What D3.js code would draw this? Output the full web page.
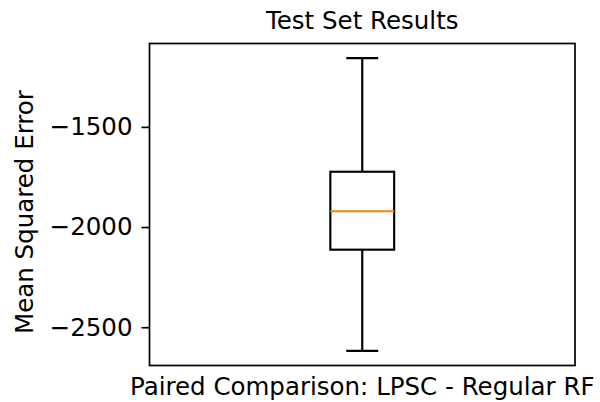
<!DOCTYPE html>
<html>
<head>
<meta charset="utf-8">
<script src="https://cdn.jsdelivr.net/npm/d3@7"></script>
<style>
  html, body { margin: 0; padding: 0; background: #fff; }
  svg text { font-family: "DejaVu Sans", sans-serif; fill: #000; }
</style>
</head>
<body>
<svg id="chart" width="600" height="402"></svg>
<script>
// Box-plot summary of the paired differences (LPSC minus regular RF)
const categories = ["LPSC - Regular RF"];
const whiskerLow = [-2618];
const quartile1 = [-2113];
const medians = [-1921];
const quartile3 = [-1724];
const whiskerHigh = [-1157];
const yTicks = [-1500, -2000, -2500];

const title = "Test Set Results";
const xLabel = "Paired Comparison: LPSC - Regular RF";
const yLabel = "Mean Squared Error";

const fontSize = 24.5;
const margin = { left: 149.5, right: 25, top: 43.5, bottom: 36.5 };
const W = 600, H = 402;
const plotW = W - margin.left - margin.right;
const plotH = H - margin.top - margin.bottom;

const svg = d3.select("#chart");
const g = svg.append("g").attr("transform", `translate(${margin.left},${margin.top})`);

// y domain: whisker extent padded by 5% on each side
const lo = d3.min(whiskerLow), hi = d3.max(whiskerHigh);
const pad = (hi - lo) * 0.05;
const y = d3.scaleLinear().domain([lo - pad, hi + pad]).range([plotH, 0]);
const x = d3.scaleLinear().domain([0.5, 1.5]).range([0, plotW]);

const boxWidth = 0.15, capWidth = 0.075;

// Axis with ticks and labels
const yAxis = d3.axisLeft(y).tickValues(yTicks)
  .tickFormat(d => d3.format("d")(d).replace("-", "\u2212"))
  .tickSize(8).tickPadding(9);
const ay = g.append("g").call(yAxis);
ay.select(".domain").remove();
ay.selectAll(".tick line").attr("stroke", "#000").attr("stroke-width", 1.7);
ay.selectAll(".tick text").attr("font-size", fontSize).attr("font-family", "DejaVu Sans");

// Boxes
categories.forEach((c, i) => {
  const cx = x(i + 1);
  const stroke = { stroke: "#000", "stroke-width": 2.15, fill: "none" };
  const line = (x1, y1, x2, y2, attrs) => {
    const l = g.append("line").attr("x1", x1).attr("y1", y1).attr("x2", x2).attr("y2", y2);
    Object.entries(attrs).forEach(([k, v]) => l.attr(k, v));
    return l;
  };
  // whiskers
  line(cx, y(quartile3[i]), cx, y(whiskerHigh[i]), stroke);
  line(cx, y(quartile1[i]), cx, y(whiskerLow[i]), stroke);
  // caps
  line(x(i + 1 - capWidth / 2), y(whiskerHigh[i]), x(i + 1 + capWidth / 2), y(whiskerHigh[i]), stroke);
  line(x(i + 1 - capWidth / 2), y(whiskerLow[i]), x(i + 1 + capWidth / 2), y(whiskerLow[i]), stroke);
  // box
  g.append("rect")
    .attr("x", x(i + 1 - boxWidth / 2))
    .attr("y", y(quartile3[i]))
    .attr("width", x(i + 1 + boxWidth / 2) - x(i + 1 - boxWidth / 2))
    .attr("height", y(quartile1[i]) - y(quartile3[i]))
    .attr("fill", "none").attr("stroke", "#000").attr("stroke-width", 2.15);
  // median
  line(x(i + 1 - boxWidth / 2), y(medians[i]), x(i + 1 + boxWidth / 2), y(medians[i]),
       { stroke: "#ff7f0e", "stroke-width": 2.15 });
});

// Frame
g.append("rect").attr("x", 0).attr("y", 0).attr("width", plotW).attr("height", plotH)
  .attr("fill", "none").attr("stroke", "#000").attr("stroke-width", 1.7);

// Title and axis labels
svg.append("text").attr("x", margin.left + plotW / 2).attr("y", 28.5)
  .attr("text-anchor", "middle").attr("font-size", fontSize).text(title);
svg.append("text").attr("x", margin.left + plotW / 2).attr("y", 395)
  .attr("text-anchor", "middle").attr("font-size", fontSize).text(xLabel);
svg.append("text")
  .attr("transform", `translate(33,212) rotate(-90)`)
  .attr("text-anchor", "middle").attr("font-size", fontSize).text(yLabel);
</script>
</body>
</html>
